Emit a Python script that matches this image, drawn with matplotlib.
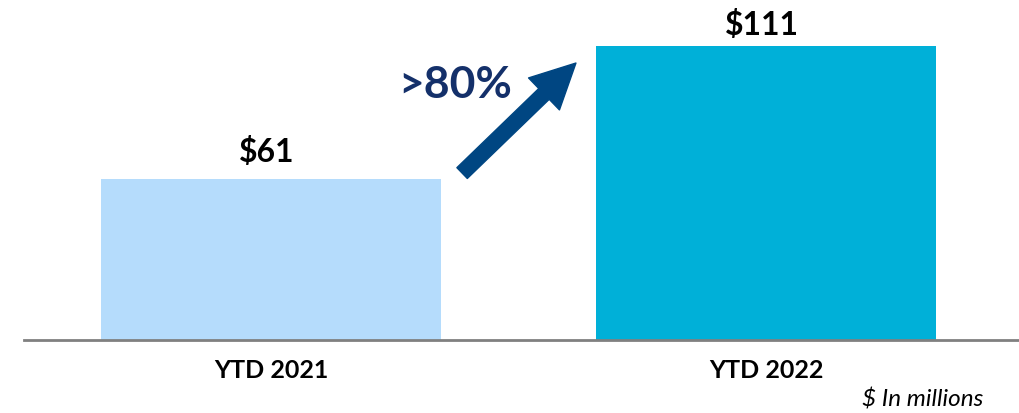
import matplotlib
matplotlib.use("Agg")
import matplotlib.pyplot as plt

categories = ["YTD 2021", "YTD 2022"]
values = [61, 111]
value_labels = ["$61", "$111"]
growth_label = ">80%"
unit_note = "$ In millions"

bar_colors = ["#B5DCFC", "#00B0D8"]
label_gaps = [13, 9]  # points above bar top

plt.rcParams["font.family"] = ["Lato", "DejaVu Sans"]

fig = plt.figure(figsize=(10.2, 4.14), dpi=100)
ax = fig.add_axes([24 / 1020, 73 / 414, 996 / 1020, 341 / 414])

x = list(range(len(categories)))
ax.bar(x, values, width=0.687, color=bar_colors, zorder=2)

for xi, v, lab, gap in zip(x, values, value_labels, label_gaps):
    ax.annotate(lab, (xi, v), xytext=(-3, gap), textcoords="offset points",
                ha="center", va="baseline", fontsize=23, fontweight="bold",
                color="black")

ax.set_xlim(-0.499, 1.513)
ax.set_ylim(0, 128.9)

ax.set_xticks(x)
ax.set_xticklabels(categories, fontsize=18, fontweight="bold")
ax.tick_params(axis="x", length=0, pad=13)
ax.set_yticks([])

for s in ["top", "right", "left"]:
    ax.spines[s].set_visible(False)
ax.spines["bottom"].set_color("#808080")
ax.spines["bottom"].set_linewidth(2)

# growth arrow between the bars
ax.annotate("", xy=(0.616, 104.7), xytext=(0.386, 63.1),
            arrowprops=dict(arrowstyle="simple,head_width=32,head_length=32,tail_width=10.8",
                            mutation_scale=1, color="#004682", shrinkA=0, shrinkB=0))
ax.text(0.372, 96.8, growth_label, ha="center", va="center", fontsize=32,
        fontweight="bold", color="#14306A")

fig.text(983 / 1020, 7 / 414, unit_note, ha="right", va="baseline",
         fontsize=17.5, fontstyle="italic", color="black")

fig.savefig("out.png", dpi=100)
